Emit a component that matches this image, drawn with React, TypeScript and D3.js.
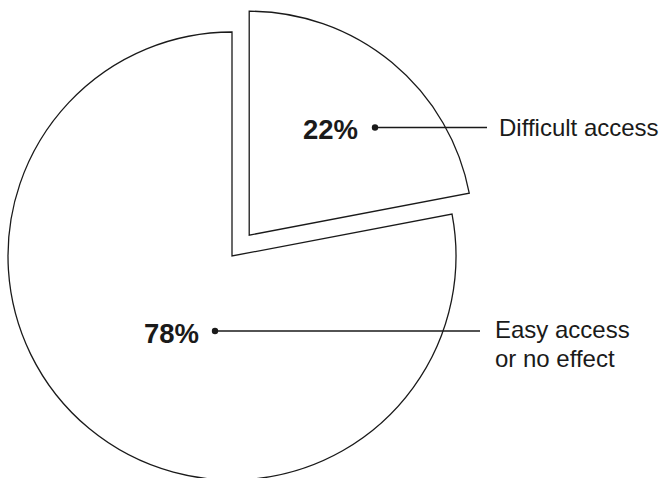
import React from "react";
import * as d3 from "d3";

const categories = ["Difficult access", "Easy access or no effect"];
const values = [22, 78];
const labelLines = [["Difficult access"], ["Easy access", "or no effect"]];

const W = 665;
const H = 478;
const CX = 232;
const CY = 256;
const R = 224;
const EXPLODE = 27;

export default function App() {
  const pie = d3
    .pie<number>()
    .sort(null)
    .startAngle(0)
    .endAngle(2 * Math.PI)
    .value((d) => d);
  const arcs = pie(values);
  const arcGen = d3.arc<d3.PieArcDatum<number>>().innerRadius(0).outerRadius(R);

  const labelLayout = [
    { pctX: 358, pctY: 138.5, dotX: 375, dotY: 127.5, lineEnd: 487, textX: 499, textY: 135.5 },
    { pctX: 199, pctY: 342.5, dotX: 215, dotY: 331, lineEnd: 480, textX: 495, textY: 337.5 },
  ];

  return (
    <svg
      width={W}
      height={H}
      style={{ position: "absolute", left: 0, top: 0, display: "block", background: "#fff" }}
    >
      {arcs.map((a, i) => {
        const mid = (a.startAngle + a.endAngle) / 2;
        const off = i === 0 ? EXPLODE : 0;
        const dx = Math.sin(mid) * off;
        const dy = -Math.cos(mid) * off;
        return (
          <path
            key={categories[i]}
            d={arcGen(a) || ""}
            transform={`translate(${CX + dx},${CY + dy})`}
            fill="#fff"
            stroke="#1a1a1a"
            strokeWidth={1.3}
            strokeLinejoin="miter"
          />
        );
      })}
      {values.map((v, i) => {
        const L = labelLayout[i];
        return (
          <g key={"lbl" + i}>
            <text
              x={L.pctX}
              y={L.pctY}
              textAnchor="end"
              fontFamily="'Liberation Sans', Arial, sans-serif"
              fontWeight="bold"
              fontSize={27.5}
              fill="#1a1a1a"
            >
              {v}%
            </text>
            <circle cx={L.dotX} cy={L.dotY} r={3.2} fill="#1a1a1a" />
            <line
              x1={L.dotX}
              y1={L.dotY}
              x2={L.lineEnd}
              y2={L.dotY}
              stroke="#1a1a1a"
              strokeWidth={1.3}
            />
            {labelLines[i].map((t, j) => (
              <text
                key={t}
                x={L.textX}
                y={L.textY + j * 29.5}
                fontFamily="'Liberation Sans', Arial, sans-serif"
                fontSize={24}
                fill="#1a1a1a"
              >
                {t}
              </text>
            ))}
          </g>
        );
      })}
    </svg>
  );
}
